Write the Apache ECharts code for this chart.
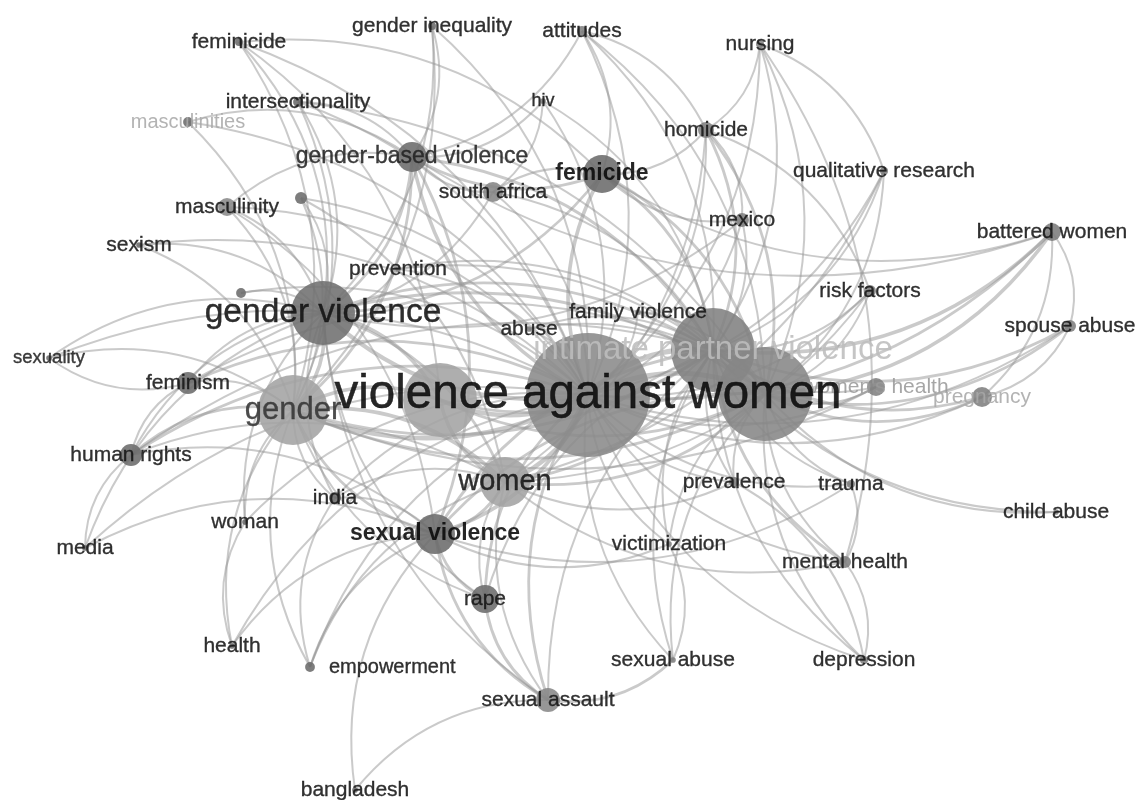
<!DOCTYPE html>
<html>
<head>
<meta charset="utf-8">
<title>Keyword co-occurrence network</title>
<script src="https://cdn.jsdelivr.net/npm/echarts@6/dist/echarts.min.js"></script>
<style>
  html, body { margin: 0; padding: 0; background: #ffffff; }
  #chart { width: 1142px; height: 800px; }
</style>
</head>
<body>
<div id="chart"></div>
<script>
// Keywords of the co-occurrence map, with their layout coordinates (map units)
const keywords = [
  'intimate partner violence', 'domestic violence', "women's health", 'pregnancy', 'masculinities',
  'feminicide', 'gender inequality', 'attitudes', 'nursing', 'intersectionality',
  'hiv', 'homicide', 'gender-based violence', 'femicide', 'south africa',
  'qualitative research', 'masculinity', 'kw-a', 'mexico', 'battered women',
  'sexism', 'prevention', 'risk factors', 'kw-b', 'family violence',
  'abuse', 'spouse abuse', 'sexuality', 'feminism', 'human rights',
  'prevalence', 'trauma', 'india', 'child abuse', 'woman',
  'victimization', 'media', 'mental health', 'rape', 'health',
  'empowerment', 'sexual abuse', 'depression', 'sexual assault', 'bangladesh',
  'violence', 'gender', 'women', 'sexual violence', 'gender violence',
  'violence against women'
];
const mapX = [
  713, 765, 876, 982, 188,
  239, 432, 582, 760, 298,
  543, 706, 412, 602, 493,
  884, 227, 301, 742, 1052,
  139, 398, 870, 241, 638,
  529, 1070, 49, 188, 131,
  734, 851, 335, 1056, 245,
  669, 85, 845, 485, 232,
  310, 673, 864, 548, 355,
  440, 293, 505, 435, 323,
  588
];
const mapY = [
  350, 394, 387, 397, 122,
  42, 26, 31, 44, 102,
  101, 130, 157, 174, 192,
  171, 207, 198, 220, 232,
  245, 269, 291, 293, 312,
  329, 326, 358, 383, 455,
  482, 484, 498, 512, 522,
  544, 548, 562, 599, 646,
  667, 660, 660, 700, 790,
  400, 410, 482, 534, 313,
  395
];
// Occurrence weights (circle area grows with weight)
const occurrences = [
  441, 552, 20, 25, 6,
  4, 4, 6, 4, 6,
  2, 16, 56, 90, 25,
  4, 20, 9, 12, 20,
  2, 2, 9, 6, 2,
  2, 9, 2, 30, 30,
  6, 4, 9, 2, 2,
  2, 2, 9, 49, 2,
  6, 2, 4, 36, 2,
  342, 306, 156, 100, 256,
  961
];
// Cluster of each keyword
const cluster = [
  2, 2, 2, 2, 1,
  1, 1, 2, 2, 1,
  2, 2, 1, 1, 2,
  2, 2, 1, 2, 2,
  1, 2, 2, 1, 2,
  2, 2, 1, 1, 1,
  2, 2, 1, 2, 1,
  2, 1, 2, 1, 1,
  1, 2, 2, 2, 1,
  3, 3, 3, 1, 1,
  2
];

// Co-occurrence links: [keyword, keyword, strength]
const links = [
  ['violence against women', 'intimate partner violence', 5],
  ['violence against women', 'domestic violence', 5],
  ['intimate partner violence', 'domestic violence', 5],
  ['violence against women', 'violence', 4],
  ['violence against women', 'gender violence', 4],
  ['violence against women', 'gender', 4],
  ['violence against women', 'women', 4],
  ['violence against women', 'sexual violence', 3],
  ['violence against women', 'femicide', 3],
  ['violence against women', 'gender-based violence', 3],
  ['gender violence', 'gender', 3],
  ['gender violence', 'violence', 3],
  ['gender', 'violence', 3],
  ['gender', 'women', 3],
  ['women', 'violence', 3],
  ['women', 'sexual violence', 2],
  ['intimate partner violence', 'gender', 2],
  ['domestic violence', 'gender', 2],
  ['domestic violence', 'women', 2],
  ['intimate partner violence', 'women', 2],
  ['domestic violence', 'violence', 2],
  ['intimate partner violence', 'violence', 2],
  ['gender violence', 'intimate partner violence', 2],
  ['gender violence', 'domestic violence', 2],
  ['gender violence', 'women', 2],
  ['sexual violence', 'gender', 2],
  ['sexual violence', 'intimate partner violence', 2],
  ['sexual violence', 'domestic violence', 2],
  ['femicide', 'intimate partner violence', 2],
  ['femicide', 'domestic violence', 2],
  ['femicide', 'gender violence', 2],
  ['femicide', 'gender-based violence', 2],
  ['gender-based violence', 'gender violence', 2],
  ['gender-based violence', 'gender', 2],
  ['gender-based violence', 'intimate partner violence', 2],
  ['gender-based violence', 'sexual violence', 2],
  ['feminicide', 'femicide', 1],
  ['feminicide', 'gender violence', 1],
  ['feminicide', 'violence', 1],
  ['feminicide', 'violence against women', 1],
  ['feminicide', 'gender', 1],
  ['gender inequality', 'gender violence', 1],
  ['gender inequality', 'violence against women', 1],
  ['gender inequality', 'gender-based violence', 1],
  ['gender inequality', 'gender', 1],
  ['attitudes', 'gender-based violence', 1],
  ['attitudes', 'intimate partner violence', 1],
  ['attitudes', 'domestic violence', 1],
  ['attitudes', 'violence against women', 1],
  ['attitudes', 'femicide', 1],
  ['attitudes', 'homicide', 1],
  ['nursing', 'homicide', 1],
  ['nursing', 'intimate partner violence', 1],
  ['nursing', 'domestic violence', 1],
  ['nursing', 'violence against women', 1],
  ['nursing', 'mental health', 1],
  ['nursing', 'qualitative research', 1],
  ['intersectionality', 'violence against women', 1],
  ['intersectionality', 'gender violence', 1],
  ['intersectionality', 'gender-based violence', 1],
  ['intersectionality', 'gender', 1],
  ['intersectionality', 'domestic violence', 1],
  ['masculinities', 'gender-based violence', 1],
  ['masculinities', 'violence against women', 1],
  ['masculinities', 'gender', 1],
  ['hiv', 'south africa', 1],
  ['hiv', 'violence against women', 1],
  ['hiv', 'intimate partner violence', 1],
  ['hiv', 'gender-based violence', 1],
  ['homicide', 'femicide', 1],
  ['homicide', 'intimate partner violence', 2],
  ['homicide', 'domestic violence', 2],
  ['homicide', 'violence against women', 1],
  ['homicide', 'mexico', 1],
  ['homicide', 'risk factors', 1],
  ['homicide', 'women', 1],
  ['qualitative research', 'violence against women', 1],
  ['qualitative research', 'intimate partner violence', 1],
  ['qualitative research', 'domestic violence', 1],
  ['qualitative research', 'women', 1],
  ['battered women', 'domestic violence', 3],
  ['battered women', 'intimate partner violence', 3],
  ['battered women', 'violence against women', 2],
  ['battered women', 'spouse abuse', 1],
  ['battered women', 'pregnancy', 1],
  ['battered women', 'femicide', 1],
  ['battered women', 'gender-based violence', 1],
  ['spouse abuse', 'domestic violence', 2],
  ['spouse abuse', 'intimate partner violence', 2],
  ['spouse abuse', 'pregnancy', 1],
  ['spouse abuse', 'violence against women', 1],
  ['risk factors', 'intimate partner violence', 1],
  ['risk factors', 'domestic violence', 1],
  ['risk factors', 'violence against women', 1],
  ['risk factors', 'women', 1],
  ["women's health", 'domestic violence', 1],
  ["women's health", 'intimate partner violence', 1],
  ["women's health", 'violence against women', 1],
  ["women's health", 'gender', 1],
  ['pregnancy', 'domestic violence', 2],
  ['pregnancy', 'intimate partner violence', 2],
  ['pregnancy', 'violence against women', 1],
  ['child abuse', 'domestic violence', 1],
  ['child abuse', 'intimate partner violence', 1],
  ['trauma', 'intimate partner violence', 1],
  ['trauma', 'domestic violence', 1],
  ['trauma', 'violence against women', 1],
  ['trauma', 'mental health', 1],
  ['trauma', 'sexual violence', 1],
  ['prevalence', 'intimate partner violence', 1],
  ['prevalence', 'domestic violence', 1],
  ['prevalence', 'violence against women', 1],
  ['prevalence', 'women', 1],
  ['prevalence', 'depression', 1],
  ['mental health', 'intimate partner violence', 2],
  ['mental health', 'domestic violence', 1],
  ['mental health', 'violence against women', 1],
  ['mental health', 'depression', 1],
  ['mental health', 'women', 1],
  ['depression', 'intimate partner violence', 1],
  ['depression', 'domestic violence', 1],
  ['depression', 'violence against women', 1],
  ['victimization', 'violence against women', 1],
  ['victimization', 'intimate partner violence', 1],
  ['victimization', 'sexual violence', 1],
  ['victimization', 'sexual abuse', 1],
  ['victimization', 'domestic violence', 1],
  ['sexual abuse', 'sexual assault', 2],
  ['sexual abuse', 'violence against women', 1],
  ['sexual abuse', 'domestic violence', 1],
  ['sexual abuse', 'intimate partner violence', 1],
  ['sexual assault', 'rape', 2],
  ['sexual assault', 'sexual violence', 2],
  ['sexual assault', 'violence against women', 2],
  ['sexual assault', 'intimate partner violence', 1],
  ['sexual assault', 'women', 1],
  ['sexual assault', 'gender violence', 1],
  ['rape', 'sexual violence', 2],
  ['rape', 'violence against women', 2],
  ['rape', 'women', 1],
  ['rape', 'gender violence', 1],
  ['rape', 'gender', 1],
  ['rape', 'intimate partner violence', 1],
  ['empowerment', 'sexual violence', 1],
  ['empowerment', 'violence against women', 1],
  ['empowerment', 'women', 1],
  ['empowerment', 'india', 1],
  ['empowerment', 'gender', 1],
  ['health', 'sexual violence', 1],
  ['health', 'woman', 1],
  ['health', 'gender', 1],
  ['health', 'violence against women', 1],
  ['bangladesh', 'sexual violence', 1],
  ['bangladesh', 'sexual assault', 1],
  ['media', 'human rights', 1],
  ['media', 'sexual violence', 1],
  ['media', 'gender violence', 1],
  ['media', 'violence against women', 1],
  ['woman', 'gender', 1],
  ['woman', 'violence against women', 1],
  ['woman', 'gender violence', 1],
  ['india', 'sexual violence', 1],
  ['india', 'violence against women', 1],
  ['india', 'gender', 1],
  ['india', 'women', 1],
  ['india', 'gender violence', 1],
  ['human rights', 'gender', 2],
  ['human rights', 'gender violence', 1],
  ['human rights', 'violence against women', 2],
  ['human rights', 'feminism', 1],
  ['human rights', 'women', 1],
  ['human rights', 'sexual violence', 1],
  ['human rights', 'intimate partner violence', 1],
  ['feminism', 'gender', 1],
  ['feminism', 'gender violence', 1],
  ['feminism', 'violence against women', 2],
  ['feminism', 'sexuality', 1],
  ['feminism', 'intimate partner violence', 1],
  ['sexuality', 'gender violence', 1],
  ['sexuality', 'gender', 1],
  ['sexuality', 'violence against women', 1],
  ['sexism', 'gender violence', 1],
  ['sexism', 'violence against women', 1],
  ['sexism', 'gender', 1],
  ['masculinity', 'gender violence', 1],
  ['masculinity', 'gender', 1],
  ['masculinity', 'violence against women', 1],
  ['masculinity', 'gender-based violence', 1],
  ['masculinity', 'sexual violence', 1],
  ['kw-a', 'gender violence', 1],
  ['kw-a', 'violence against women', 1],
  ['kw-a', 'gender', 1],
  ['kw-a', 'women', 1],
  ['kw-b', 'gender violence', 1],
  ['kw-b', 'violence against women', 1],
  ['prevention', 'violence against women', 1],
  ['prevention', 'intimate partner violence', 1],
  ['prevention', 'gender violence', 1],
  ['prevention', 'domestic violence', 1],
  ['abuse', 'violence against women', 1],
  ['abuse', 'intimate partner violence', 1],
  ['abuse', 'domestic violence', 1],
  ['family violence', 'violence against women', 1],
  ['family violence', 'domestic violence', 1],
  ['family violence', 'intimate partner violence', 1],
  ['south africa', 'gender-based violence', 1],
  ['south africa', 'violence against women', 1],
  ['south africa', 'femicide', 1],
  ['south africa', 'intimate partner violence', 1],
  ['south africa', 'gender violence', 1],
  ['mexico', 'femicide', 1],
  ['mexico', 'violence against women', 1],
  ['mexico', 'intimate partner violence', 1],
  ['mexico', 'gender violence', 1]
];

// Label appearance: default size and the keywords drawn differently
const LABEL_FONT = '"Liberation Sans", Arial, sans-serif';
const DEFAULT_LABEL = { fontSize: 21, color: '#141414', fontWeight: 'normal', stroke: 0.35 };
const labelStyle = {
  'violence against women': { fontSize: 47.5, color: '#080808', stroke: 0.5 },
  'gender violence': { fontSize: 33.5, color: '#101010', stroke: 0.4 },
  'gender': { fontSize: 31, color: '#333333', stroke: 0.3 },
  'women': { fontSize: 29, color: '#141414', stroke: 0.4 },
  'sexual violence': { fontSize: 23, color: '#080808', fontWeight: 'bold', stroke: 0 },
  'femicide': { fontSize: 23, color: '#080808', fontWeight: 'bold', stroke: 0 },
  'gender-based violence': { fontSize: 23, color: '#222222' },
  'intimate partner violence': { fontSize: 33, color: '#bdbdbd', offset: [30, 2], stroke: 0 },
  "women's health": { fontSize: 21, color: '#9a9a9a', stroke: 0 },
  'pregnancy': { fontSize: 21, color: '#a8a8a8', stroke: 0 },
  'masculinities': { fontSize: 20, color: '#a8a8a8', stroke: 0 },
  'sexuality': { fontSize: 18.5, color: '#222222' },
  'hiv': { fontSize: 18 },
  'empowerment': { fontSize: 20, position: 'right', distance: 14 }
};
const hiddenLabels = ['violence', 'domestic violence', 'kw-a', 'kw-b'];
const clusterFill = { 1: '#6b6b6b', 2: '#808080', 3: '#a3a3a3' };
const nodeFill = {
  'violence against women': '#8a8a8a',
  'intimate partner violence': '#818181',
  'domestic violence': '#868686',
  'gender violence': '#6f6f6f',
  'sexual assault': '#888888',
  'south africa': '#858585',
  'masculinity': '#8a8a8a',
  'battered women': '#7c7c7c'
};

const nodes = keywords.map(function (name, i) {
  const st = Object.assign({}, DEFAULT_LABEL, labelStyle[name] || {});
  const radius = 2 * Math.sqrt(occurrences[i]);
  return {
    name: name,
    value: [mapX[i], mapY[i]],
    symbolSize: Math.max(5, radius * 2),
    itemStyle: { color: nodeFill[name] || clusterFill[cluster[i]], opacity: 0.88 },
    label: {
      show: hiddenLabels.indexOf(name) < 0,
      position: st.position || 'inside',
      distance: st.distance || 5,
      offset: st.offset || [0, 0],
      fontSize: st.fontSize,
      color: st.color,
      textBorderColor: st.color,
      textBorderWidth: st.stroke,
      fontWeight: st.fontWeight || 'normal',
      fontFamily: LABEL_FONT
    }
  };
});

const edges = links.map(function (l) {
  return {
    source: l[0],
    target: l[1],
    lineStyle: { width: 1.2 + l[2] * 0.8 }
  };
});

const chart = echarts.init(document.getElementById('chart'), null, { renderer: 'canvas' });
chart.setOption({
  backgroundColor: '#ffffff',
  animation: false,
  grid: { left: 0, right: 0, top: 0, bottom: 0 },
  xAxis: { type: 'value', min: 0, max: 1142, show: false },
  yAxis: { type: 'value', min: 0, max: 800, inverse: true, show: false },
  series: [{
    type: 'graph',
    coordinateSystem: 'cartesian2d',
    layout: 'none',
    data: nodes,
    links: edges,
    symbol: 'circle',
    silent: true,
    lineStyle: { color: 'rgb(150,150,150)', opacity: 0.5, curveness: 0.24 },
    labelLayout: { hideOverlap: false },
    emphasis: { disabled: true }
  }]
});
</script>
</body>
</html>
